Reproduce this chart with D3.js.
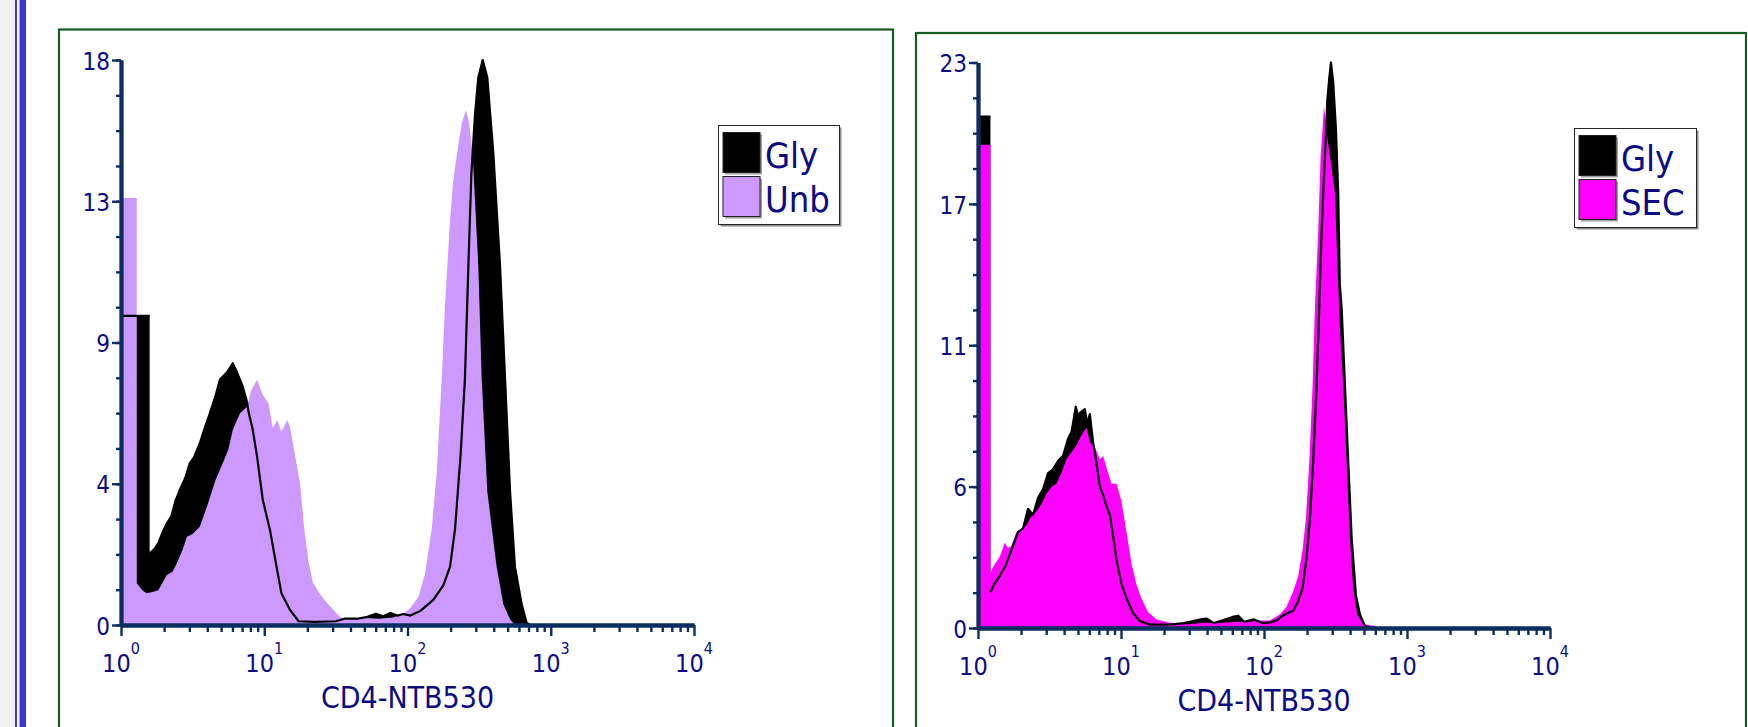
<!DOCTYPE html>
<html>
<head>
<meta charset="utf-8">
<script src="https://cdn.jsdelivr.net/npm/d3@7"></script>
<style>
  html, body { margin: 0; padding: 0; background: #fff; }
  svg { display: block; }
  text { font-family: "DejaVu Sans Condensed", "DejaVu Sans", sans-serif; fill: #0b0b84; }
</style>
</head>
<body>
<div id="chart"></div>
<script>
// [log10(CD4-NTB530), count]
const glyLeft = [
  [0.000, 9.85], [0.200, 9.85], [0.200, 2.28], [0.230, 2.40], [0.260, 2.60], [0.290, 2.95],
  [0.320, 3.24], [0.350, 3.45], [0.380, 3.95], [0.410, 4.30], [0.450, 4.70], [0.480, 5.15],
  [0.510, 5.35], [0.550, 5.79], [0.590, 6.35], [0.620, 6.74], [0.660, 7.30], [0.690, 7.81],
  [0.740, 8.05], [0.780, 8.34], [0.810, 8.05], [0.850, 7.59], [0.880, 7.10], [0.890, 6.80],
  [0.920, 6.21], [0.950, 5.36], [0.990, 3.98], [1.040, 3.03], [1.090, 1.75], [1.120, 1.01],
  [1.180, 0.48], [1.240, 0.12], [1.350, 0.10], [1.500, 0.12], [1.560, 0.20], [1.650, 0.20],
  [1.720, 0.26], [1.780, 0.36], [1.830, 0.28], [1.880, 0.38], [1.930, 0.30], [1.970, 0.35],
  [2.020, 0.30], [2.090, 0.45], [2.180, 0.80], [2.250, 1.26], [2.297, 1.86], [2.332, 3.06],
  [2.371, 5.45], [2.401, 7.85], [2.425, 11.45], [2.446, 14.39], [2.471, 16.25], [2.494, 17.44],
  [2.525, 18.00], [2.557, 17.44], [2.599, 15.04], [2.646, 11.45], [2.681, 7.85], [2.716, 4.25],
  [2.750, 1.86], [2.797, 0.66], [2.832, 0.06], [2.860, 0.00]
];
const unbLeft = [
  [0.000, 13.60], [0.110, 13.60], [0.110, 1.33], [0.150, 1.10], [0.180, 1.01], [0.220, 1.05],
  [0.260, 1.11], [0.290, 1.35], [0.320, 1.59], [0.360, 1.70], [0.390, 1.97], [0.430, 2.40],
  [0.460, 2.81], [0.500, 2.90], [0.550, 3.13], [0.600, 3.77], [0.660, 4.62], [0.710, 5.15],
  [0.750, 5.60], [0.780, 6.21], [0.830, 6.74], [0.880, 6.95], [0.910, 7.49], [0.950, 7.81],
  [0.990, 7.33], [1.030, 7.06], [1.060, 6.27], [1.090, 6.53], [1.120, 6.16], [1.160, 6.53],
  [1.180, 6.30], [1.200, 5.79], [1.250, 4.51], [1.280, 3.03], [1.310, 2.00], [1.340, 1.35],
  [1.380, 1.05], [1.420, 0.80], [1.460, 0.60], [1.530, 0.25], [1.600, 0.18], [1.700, 0.22],
  [1.800, 0.20], [1.900, 0.24], [1.970, 0.35], [2.020, 0.54], [2.076, 0.90], [2.122, 1.62],
  [2.169, 3.06], [2.204, 4.85], [2.239, 7.85], [2.262, 10.20], [2.297, 12.90], [2.320, 14.20],
  [2.355, 15.30], [2.380, 16.00], [2.408, 16.40], [2.430, 16.00], [2.455, 15.00], [2.494, 11.45],
  [2.518, 7.85], [2.557, 4.25], [2.622, 1.86], [2.669, 0.66], [2.716, 0.18], [2.750, 0.00]
];
const glyRight = [
  [0.000, 20.80], [0.087, 20.80], [0.087, 1.45], [0.110, 1.75], [0.150, 2.10], [0.190, 2.50],
  [0.210, 2.80], [0.245, 3.35], [0.280, 3.90], [0.315, 4.05], [0.350, 4.85], [0.385, 4.60],
  [0.420, 5.30], [0.455, 5.65], [0.490, 6.30], [0.525, 6.45], [0.560, 6.80], [0.595, 7.00],
  [0.630, 7.70], [0.655, 8.00], [0.684, 9.00], [0.700, 8.60], [0.712, 8.75], [0.747, 8.90],
  [0.765, 8.30], [0.782, 8.70], [0.805, 7.55], [0.829, 6.70], [0.852, 5.75], [0.875, 5.40],
  [0.899, 4.95], [0.922, 4.60], [0.945, 3.75], [0.969, 2.75], [1.003, 1.80], [1.039, 1.20],
  [1.085, 0.60], [1.132, 0.28], [1.200, 0.14], [1.340, 0.14], [1.440, 0.20], [1.560, 0.35],
  [1.600, 0.38], [1.650, 0.20], [1.780, 0.45], [1.820, 0.50], [1.860, 0.25], [1.930, 0.35],
  [1.990, 0.20], [2.041, 0.23], [2.088, 0.31], [2.123, 0.47], [2.169, 0.62], [2.204, 0.70],
  [2.239, 1.09], [2.270, 1.64], [2.298, 2.88], [2.321, 4.44], [2.344, 6.78], [2.368, 9.89],
  [2.386, 13.00], [2.403, 16.10], [2.423, 18.80], [2.433, 20.00], [2.442, 21.40], [2.456, 22.35],
  [2.468, 23.00], [2.484, 22.20], [2.503, 20.30], [2.519, 17.70], [2.530, 14.00], [2.543, 13.00],
  [2.566, 9.89], [2.589, 6.78], [2.613, 3.66], [2.643, 1.32], [2.671, 0.55], [2.706, 0.08],
  [2.750, 0.00]
];
const secRight = [
  [0.000, 19.65], [0.087, 19.65], [0.087, 2.25], [0.105, 2.48], [0.152, 2.90], [0.187, 3.47],
  [0.210, 3.26], [0.233, 3.33], [0.268, 3.89], [0.303, 4.03], [0.338, 4.17], [0.373, 4.53],
  [0.408, 4.74], [0.443, 5.02], [0.478, 5.45], [0.513, 5.73], [0.548, 5.87], [0.583, 6.30],
  [0.618, 6.86], [0.654, 7.15], [0.689, 7.43], [0.724, 7.85], [0.759, 8.14], [0.782, 7.57],
  [0.817, 7.36], [0.852, 6.86], [0.875, 7.00], [0.903, 6.44], [0.934, 5.87], [0.969, 5.87],
  [1.003, 5.16], [1.039, 3.89], [1.073, 2.62], [1.108, 1.77], [1.143, 1.20], [1.190, 0.64],
  [1.249, 0.35], [1.342, 0.21], [1.458, 0.14], [1.575, 0.21], [1.700, 0.20], [1.800, 0.25],
  [1.900, 0.25], [1.971, 0.31], [2.041, 0.31], [2.111, 0.55], [2.158, 0.86], [2.204, 1.48],
  [2.239, 2.10], [2.270, 3.19], [2.293, 4.44], [2.317, 6.78], [2.340, 9.89], [2.356, 13.00],
  [2.379, 16.10], [2.396, 19.20], [2.410, 20.35], [2.419, 21.20], [2.433, 20.60], [2.442, 20.00],
  [2.461, 19.20], [2.496, 17.70], [2.515, 14.56], [2.531, 12.20], [2.554, 9.89], [2.578, 6.78],
  [2.601, 3.66], [2.624, 1.64], [2.652, 0.55], [2.694, 0.16], [2.776, 0.08], [2.800, 0.00]
];

const yMaxLeft = 18;
const yMaxRight = 23;
const yLabelsLeft = ['0', '4', '9', '13', '18'];
const yLabelsRight = ['0', '6', '11', '17', '23'];
const xExponents = [0, 1, 2, 3, 4];
const xTitle = 'CD4-NTB530';
const legendLeft = ['Gly', 'Unb'];
const legendRight = ['Gly', 'SEC'];

const W = 1748, H = 727;
const axisColor = '#0c2d60';
const frameColor = '#175a22';

const svg = d3.select('#chart')
    .append('svg')
    .attr('width', W)
    .attr('height', H);

// window edge on the left
svg.append('rect').attr('x', 0).attr('y', 0).attr('width', 15).attr('height', H).attr('fill', '#f0f0f0');
svg.append('rect').attr('x', 15).attr('y', 0).attr('width', 2).attr('height', H).attr('fill', '#3b33d6');
svg.append('rect').attr('x', 19.5).attr('y', 0).attr('width', 6.5).attr('height', H).attr('fill', '#3b33d6');

function drawPanel(p) {
    const g = svg.append('g');

    g.append('rect')
        .attr('x', p.frame[0])
        .attr('y', p.frame[1])
        .attr('width', p.frame[2])
        .attr('height', 800)
        .attr('fill', 'none')
        .attr('stroke', frameColor)
        .attr('stroke-width', 2.2);

    const x = d3.scaleLog().domain([1, 1e4]).range([p.x0, p.x1]);
    const y = d3.scaleLinear().domain([0, p.yMax]).range([p.y0, p.yTop]);

    const toPts = s => s.map(d => [Math.pow(10, d[0]), d[1]]);
    const back = toPts(p.back);
    const front = toPts(p.front);

    const area = d3.area()
        .x(d => x(d[0]))
        .y0(y(0))
        .y1(d => y(d[1]));

    g.append('path').attr('d', area(back)).attr('fill', '#000');
    g.append('path').attr('d', area(front)).attr('fill', p.color);

    // outline of the black overlay, without the vertical jumps
    const outline = [];
    back.forEach((d, i) => {
        if (i > 0 && d[0] === back[i - 1][0]) outline.push(null);
        outline.push(d);
    });
    const line = d3.line()
        .defined(d => d)
        .x(d => x(d[0]))
        .y(d => y(d[1]));
    g.append('path')
        .attr('d', line(outline))
        .attr('fill', 'none')
        .attr('stroke', '#000')
        .attr('stroke-width', 2.2)
        .attr('stroke-linejoin', 'round');

    // y axis
    const yMinor = d3.range(17).map(i => i * p.yMax / 16);
    const yMajor = d3.range(5).map(i => i * p.yMax / 4);
    const yMinorG = g.append('g')
        .attr('transform', `translate(${p.x0},0)`)
        .call(d3.axisLeft(y).tickValues(yMinor).tickSize(5).tickSizeOuter(0).tickFormat(''));
    const yMajorG = g.append('g')
        .attr('transform', `translate(${p.x0},0)`)
        .call(d3.axisLeft(y).tickValues(yMajor).tickSize(9).tickSizeOuter(0).tickPadding(2)
            .tickFormat((d, i) => p.yLabels[i]));
    yMajorG.selectAll('text').style('font-size', '24px').attr('dy', '0.38em');

    // x axis
    const xMinor = [];
    xExponents.slice(0, -1).forEach(e => {
        for (let k = 2; k < 10; k++) xMinor.push(k * Math.pow(10, e));
    });
    const xMajor = xExponents.map(e => Math.pow(10, e));
    const xMinorG = g.append('g')
        .attr('transform', `translate(0,${p.y0})`)
        .call(d3.axisBottom(x).tickValues(xMinor).tickSize(7).tickSizeOuter(0).tickFormat(''));
    const xMajorG = g.append('g')
        .attr('transform', `translate(0,${p.y0})`)
        .call(d3.axisBottom(x).tickValues(xMajor).tickSize(11).tickSizeOuter(0).tickFormat(''));

    [yMinorG, yMajorG, xMinorG, xMajorG].forEach(a => {
        a.selectAll('line').attr('stroke', axisColor).attr('stroke-width', 2.4);
        a.select('.domain').attr('stroke', axisColor).attr('stroke-width', 3.8);
    });

    const lab = g.append('g');
    xExponents.forEach(e => {
        const t = lab.append('text')
            .attr('x', x(Math.pow(10, e)))
            .attr('y', p.y0 + 47)
            .attr('text-anchor', 'middle')
            .style('font-size', '25px');
        t.append('tspan').text('10');
        t.append('tspan').attr('dy', -18).style('font-size', '16px').text(e);
    });

    g.append('text')
        .attr('x', (p.x0 + p.x1) / 2)
        .attr('y', p.y0 + 83)
        .attr('text-anchor', 'middle')
        .style('font-size', '30px')
        .text(xTitle);

    // legend
    const lg = g.append('g');
    const b = p.legend;
    lg.append('rect').attr('x', b[0] + 2).attr('y', b[1] + 2).attr('width', b[2]).attr('height', b[3]).attr('fill', '#8c8c8c');
    lg.append('rect').attr('x', b[0]).attr('y', b[1]).attr('width', b[2]).attr('height', b[3])
        .attr('fill', '#fff').attr('stroke', '#262626').attr('stroke-width', 1);
    p.names.forEach((name, i) => {
        const sy = b[1] + 7 + i * 44;
        const fill = i === 0 ? '#000' : p.color;
        lg.append('rect').attr('x', b[0] + 6.5).attr('y', sy + 2).attr('width', 37).attr('height', 40).attr('fill', '#a0a0a0');
        lg.append('rect').attr('x', b[0] + 4.5).attr('y', sy).attr('width', 37).attr('height', 40)
            .attr('fill', fill).attr('stroke', '#222').attr('stroke-width', 1);
        lg.append('text')
            .attr('x', b[0] + 46.5)
            .attr('y', sy + 35.5)
            .style('font-size', '36px')
            .text(name);
    });
}

drawPanel({
    frame: [59, 29.5, 834],
    x0: 121, x1: 694, y0: 625, yTop: 60,
    yMax: yMaxLeft, yLabels: yLabelsLeft,
    back: glyLeft, front: unbLeft, color: '#cc99ff',
    legend: [718.5, 125.5, 121, 99], names: legendLeft
});

drawPanel({
    frame: [916, 33, 830],
    x0: 978, x1: 1550, y0: 628, yTop: 62.5,
    yMax: yMaxRight, yLabels: yLabelsRight,
    back: glyRight, front: secRight, color: '#ff00ff',
    legend: [1574.5, 128.5, 122, 99], names: legendRight
});
</script>
</body>
</html>
